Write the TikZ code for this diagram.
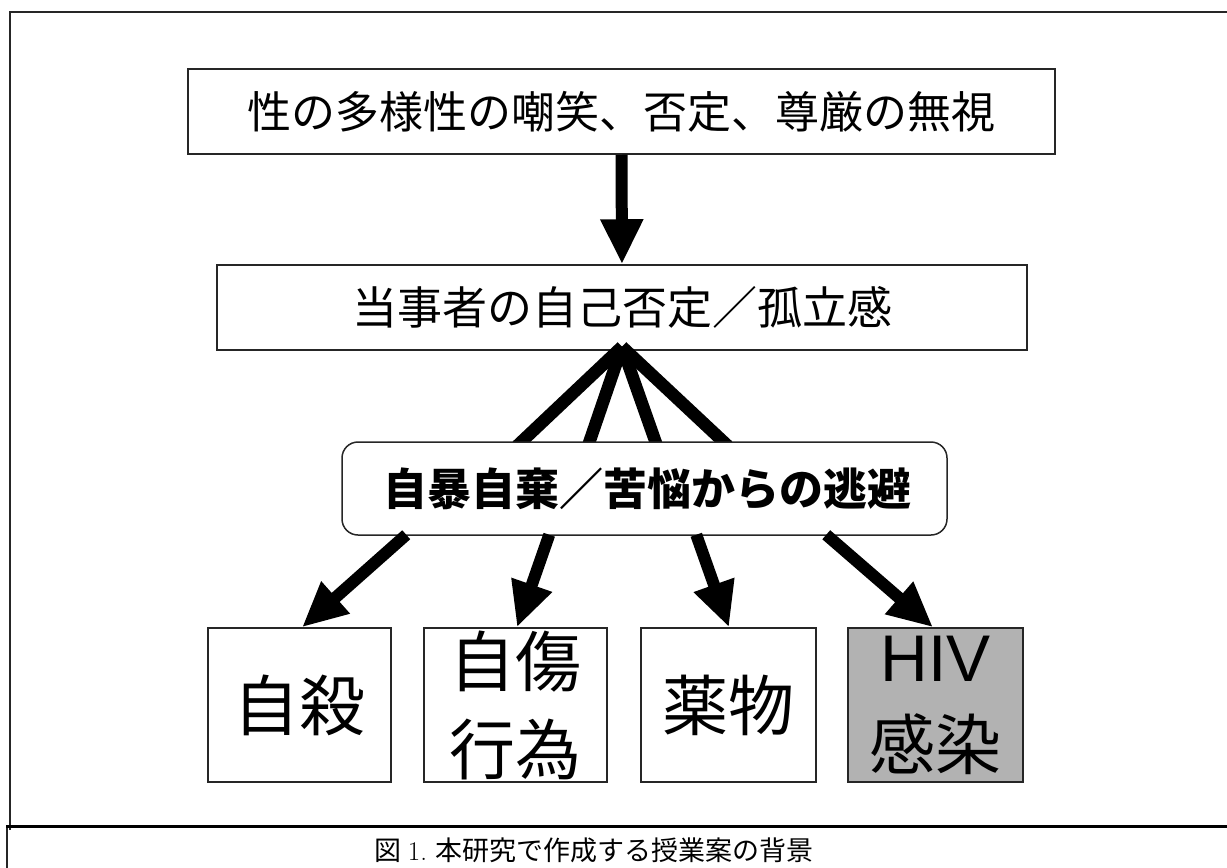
\documentclass[tikz,border=0pt]{standalone}
\usepackage{fontspec}
\newfontfamily\jp{Noto Sans CJK JP}
\newfontfamily\hv{Liberation Sans}
\usetikzlibrary{arrows.meta,calc}
\tikzset{
  box/.style={draw=black!85, line width=1.5pt, fill=white, inner sep=0pt, align=center},
  bigtext/.style={font=\jp\fontsize{66}{88}\selectfont},
  bigarrow/.style={line width=12pt, -{Triangle[length=45pt,width=40pt]}},
  fanline/.style={line width=12.5pt},
  frame/.style={draw=black!85, line width=1.5pt},
}
\begin{document}
\begin{tikzpicture}[x=1pt,y=-1pt]
\useasboundingbox (0,0) rectangle (1227,868);
\clip (0,0) rectangle (1227,868);
\fill[white] (0,0) rectangle (1227,868);
% frame
\draw[frame] (10,830) -- (10,12) -- (1240,12);
\draw[frame] (7,826) -- (7,880);
\draw[black, line width=3pt] (6,826) -- (1240,826);

% nodes
\node[box, minimum width=867pt, minimum height=85pt, font=\jp\fontsize{44}{44}\selectfont] (top) at (621.5,111.5)
  {性の多様性の嘲笑、否定、尊厳の無視};
\node[box, minimum width=810pt, minimum height=85pt, font=\jp\fontsize{45}{45}\selectfont] (mid) at (622,307.5)
  {当事者の自己否定／孤立感};

\coordinate (apex) at ($(mid.south)+(0,-4)$);
\coordinate (f1) at (517,446);
\coordinate (f2) at (588,446);
\coordinate (f3) at (657,446);
\coordinate (f4) at (728,446);
\foreach \f in {f1,f2,f3,f4} \draw[fanline] (apex) -- (\f);

\node[box, rounded corners=16pt, minimum width=605pt, minimum height=93pt, font=\jp\bfseries\fontsize{44}{44}\selectfont] (rb) at (644.5,488.5)
  {\hspace*{5pt}自暴自棄／苦悩からの逃避};

\node[box, bigtext, minimum width=183pt, minimum height=154pt] (b1) at (299.5,705)
  {自殺};
\node[box, bigtext, minimum width=183pt, minimum height=154pt] (b2) at (515.5,705)
  {自傷\\行為};
\node[box, bigtext, minimum width=175pt, minimum height=154pt] (b3) at (728.5,705)
  {薬物};
\node[box, bigtext, fill=black!30, minimum width=175pt, minimum height=154pt] (b4) at (935.5,705)
  {{\hv HIV}\\感染};

% arrows
\draw[bigarrow] (top.south) -- (mid.north);
\coordinate (s1) at ($(rb.south west)+(65,-1)$);
\coordinate (s2) at ($(rb.south west)+(208,-1)$);
\coordinate (s3) at ($(rb.south west)+(355,-1)$);
\coordinate (s4) at ($(rb.south west)+(485,-1)$);
\draw[bigarrow] (s1) -- ($(b1.north)+(2.5,0)$);
\draw[bigarrow] (s2) -- ($(b2.north)+(1.5,0)$);
\draw[bigarrow] (s3) -- ($(b3.north)+(0.5,0)$);
\draw[bigarrow] (s4) -- ($(b4.north)+(-2.5,0)$);

% caption
\node[inner sep=0pt, font=\jp\fontsize{27}{27}\selectfont] (cap) at (594,850)
  {図 {\rmfamily 1.} 本研究で作成する授業案の背景};
\end{tikzpicture}
\end{document}
